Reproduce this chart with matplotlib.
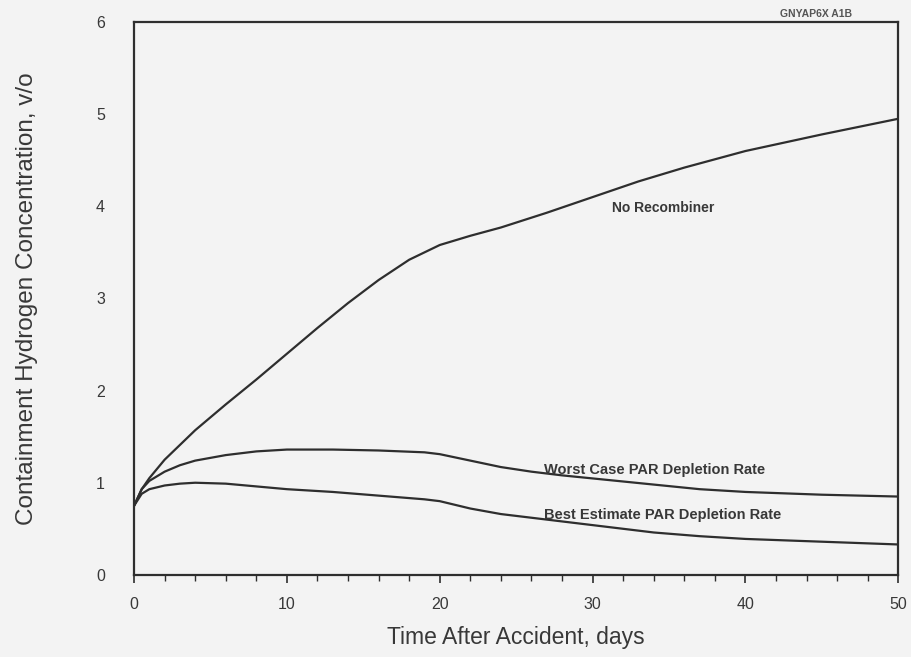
import numpy as np
import matplotlib.pyplot as plt

plt.rcParams['font.family'] = ['Liberation Sans', 'DejaVu Sans']

# Tiempo (dias) y concentracion de hidrogeno (v/o)
t_sin = [0, 0.5, 1, 2, 4, 6, 8, 10, 12, 14, 16, 18, 20, 22, 24, 27, 30, 33, 36, 40, 45, 50]
h_sin = [0.75, 0.93, 1.05, 1.25, 1.57, 1.85, 2.12, 2.40, 2.68, 2.95, 3.20, 3.42, 3.58, 3.68,
         3.77, 3.93, 4.10, 4.27, 4.42, 4.60, 4.78, 4.95]

t_peor = [0, 0.5, 1, 2, 3, 4, 6, 8, 10, 13, 16, 19, 20, 22, 24, 26, 28, 31, 34, 37, 40, 45, 50]
h_peor = [0.75, 0.93, 1.02, 1.12, 1.19, 1.24, 1.30, 1.34, 1.36, 1.36, 1.35, 1.33, 1.31, 1.24,
          1.17, 1.12, 1.08, 1.03, 0.98, 0.93, 0.90, 0.87, 0.85]

t_mejor = [0, 0.5, 1, 2, 3, 4, 6, 8, 10, 13, 16, 19, 20, 22, 24, 26, 28, 31, 34, 37, 40, 45, 50]
h_mejor = [0.75, 0.88, 0.93, 0.97, 0.99, 1.00, 0.99, 0.96, 0.93, 0.90, 0.86, 0.82, 0.80, 0.72,
           0.66, 0.62, 0.58, 0.52, 0.46, 0.42, 0.39, 0.36, 0.33]

fondo = '#f3f3f3'
linea = '#2e2e2e'
texto = '#383838'

fig = plt.figure(figsize=(9.12, 6.57), dpi=100, facecolor=fondo)
ax = fig.add_axes([0.147, 0.125, 0.838, 0.8415], facecolor=fondo)

ax.plot(t_sin, h_sin, color=linea, lw=1.6)
ax.plot(t_peor, h_peor, color=linea, lw=1.6)
ax.plot(t_mejor, h_mejor, color=linea, lw=1.6)

ax.set_xlim(0, 50)
ax.set_ylim(0, 6)
ax.set_xticks(range(0, 51, 10))
ax.set_xticks(range(0, 51, 2), minor=True)
ax.set_yticks(range(0, 7))
ax.tick_params(axis='x', which='major', direction='out', length=6, width=1.2,
               color=linea, labelsize=11.5, labelcolor=texto, pad=10)
ax.tick_params(axis='x', which='minor', direction='out', length=4, width=1.0, color=linea)
ax.tick_params(axis='y', length=0, labelsize=11.5, labelcolor=texto, pad=21)
for s in ax.spines.values():
    s.set_color(linea)
    s.set_linewidth(1.6)

ax.set_xlabel('Time After Accident, days', fontsize=16.5, color=texto, labelpad=10)
ax.set_ylabel('Containment Hydrogen Concentration, v/o', fontsize=17.5, color=texto, labelpad=42)

ax.text(31.3, 3.98, 'No Recombiner', fontsize=10, fontweight='bold', color=texto, va='center')
ax.text(26.8, 1.14, 'Worst Case PAR Depletion Rate', fontsize=10.5, fontweight='bold',
        color=texto, va='center')
ax.text(26.8, 0.65, 'Best Estimate PAR Depletion Rate', fontsize=10.5, fontweight='bold',
        color=texto, va='center')
fig.text(0.855, 0.978, 'GNYAP6X A1B', fontsize=7.5, fontweight='bold', color='#555555', va='center')

fig.savefig('out.png', dpi=100, facecolor=fondo)
